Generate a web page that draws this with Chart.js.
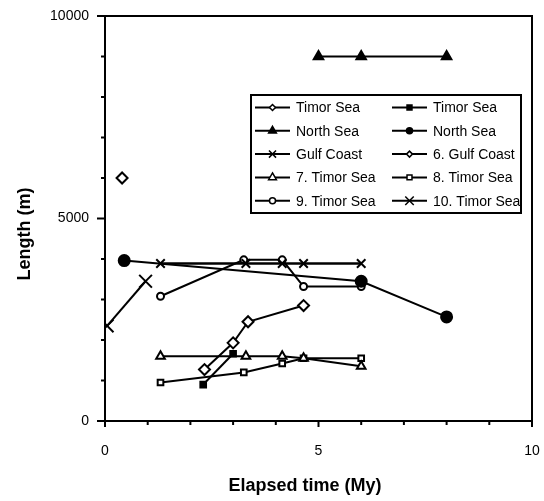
<!DOCTYPE html>
<html>
<head>
<meta charset="utf-8">
<script src="https://cdn.jsdelivr.net/npm/chart.js@4/dist/chart.umd.min.js"></script>
<style>
  html, body { margin: 0; padding: 0; background: #fff; }
  #wrap { width: 544px; height: 501px; }
</style>
</head>
<body>
<div id="wrap"><canvas id="chart" width="544" height="501"></canvas></div>
<script>
// x = elapsed time (My), y = length (m)
const timorAX = [0.4];
const timorAY = [6000];
const timorBX = [2.3, 3.0];
const timorBY = [900, 1660];
const northTriX = [5, 6, 8];
const northTriY = [9000, 9000, 9000];
const northDotX = [0.45, 6, 8];
const northDotY = [3960, 3450, 2570];
const gulfX = [1.3, 3.3, 4.15, 4.65, 6];
const gulfY = [3890, 3890, 3890, 3890, 3890];
const gulf6X = [2.33, 3.0, 3.35, 4.65];
const gulf6Y = [1270, 1930, 2450, 2850];
const timor7X = [1.3, 3.3, 4.15, 4.65, 6];
const timor7Y = [1600, 1600, 1600, 1550, 1350];
const timor8X = [1.3, 3.25, 4.15, 4.65, 6];
const timor8Y = [950, 1200, 1420, 1550, 1550];
const timor9X = [1.3, 3.25, 4.15, 4.65, 6];
const timor9Y = [3080, 3980, 3980, 3320, 3320];
const timor10X = [0.05, 0.95];
const timor10Y = [2350, 3450];

const seriesLabels = ['Timor Sea', 'Timor Sea', 'North Sea', 'North Sea', 'Gulf Coast',
  '6. Gulf Coast', '7. Timor Sea', '8. Timor Sea', '9. Timor Sea', '10. Timor Sea'];
const xTickLabels = [0, 5, 10];
const yTickLabels = [0, 5000, 10000];
const xTitle = 'Elapsed time (My)';
const yTitle = 'Length (m)';

const FONT = "'Liberation Sans', Arial, sans-serif";

function pts(xs, ys) {
  return xs.map((x, i) => ({ x: x, y: ys[i] }));
}

// marker styles: [pointStyle, radius, filled, legendRadius]
const markers = [
  ['rectRot', 5.5, false, 3],
  ['rect', 4, true, 3.5],
  ['triangle', 5.5, true, 4.5],
  ['circle', 5.5, true, 3],
  ['crossRot', 6, false, 5],
  ['rectRot', 5.5, false, 3],
  ['triangle', 5, false, 4.5],
  ['rect', 4, false, 3.5],
  ['circle', 3.5, false, 3],
  ['crossRot', 9, false, 6],
];
const seriesData = [
  pts(timorAX, timorAY), pts(timorBX, timorBY), pts(northTriX, northTriY),
  pts(northDotX, northDotY), pts(gulfX, gulfY), pts(gulf6X, gulf6Y),
  pts(timor7X, timor7Y), pts(timor8X, timor8Y), pts(timor9X, timor9Y),
  pts(timor10X, timor10Y),
];

const datasets = seriesData.map((d, i) => ({
  label: seriesLabels[i],
  data: d,
  showLine: true,
  borderColor: '#000',
  borderWidth: i === 4 ? 2.5 : 2,
  tension: 0,
  pointStyle: markers[i][0],
  pointRadius: markers[i][1],
  pointBorderWidth: 2,
  pointBorderColor: '#000',
  pointBackgroundColor: markers[i][2] ? '#000' : '#fff',
}));

// frame, tick marks, axis titles and the boxed legend
const decor = {
  id: 'decor',
  afterDraw(chart) {
    const ctx = chart.ctx;
    const a = chart.chartArea;
    ctx.save();
    ctx.strokeStyle = '#000';
    ctx.lineWidth = 2;
    ctx.strokeRect(a.left, a.top, a.right - a.left, a.bottom - a.top);

    const ys = chart.scales.y;
    ys.ticks.forEach(t => {
      const py = ys.getPixelForValue(t.value);
      const len = yTickLabels.includes(t.value) ? 8 : 4;
      ctx.beginPath();
      ctx.moveTo(a.left - len, py);
      ctx.lineTo(a.left, py);
      ctx.stroke();
    });
    const xs = chart.scales.x;
    xs.ticks.forEach(t => {
      const px = xs.getPixelForValue(t.value);
      const len = xTickLabels.includes(t.value) ? 6 : 4;
      ctx.beginPath();
      ctx.moveTo(px, a.bottom);
      ctx.lineTo(px, a.bottom + len);
      ctx.stroke();
    });

    // axis titles
    ctx.fillStyle = '#000';
    ctx.font = 'bold 18px ' + FONT;
    ctx.textAlign = 'center';
    ctx.textBaseline = 'middle';
    ctx.fillText(xTitle, 305, 486);
    ctx.save();
    ctx.translate(25, 234);
    ctx.rotate(-Math.PI / 2);
    ctx.fillText(yTitle, 0, 0);
    ctx.restore();
    ctx.textAlign = 'left';

    // legend
    const L = { left: 251, top: 95, right: 521, bottom: 213 };
    ctx.fillStyle = '#fff';
    ctx.fillRect(L.left, L.top, L.right - L.left, L.bottom - L.top);
    ctx.strokeRect(L.left, L.top, L.right - L.left, L.bottom - L.top);
    ctx.beginPath();
    ctx.rect(L.left, L.top, L.right - L.left - 1, L.bottom - L.top);
    ctx.clip();
    const colX = [255, 392];
    const rowH = 23.3;
    ctx.font = '14px ' + FONT;
    ctx.textBaseline = 'middle';
    chart.data.datasets.forEach((ds, i) => {
      const x0 = colX[i % 2];
      const y0 = L.top + 12.5 + Math.floor(i / 2) * rowH;
      ctx.strokeStyle = '#000';
      ctx.lineWidth = 2;
      ctx.beginPath();
      ctx.moveTo(x0, y0);
      ctx.lineTo(x0 + 35, y0);
      ctx.stroke();
      ctx.fillStyle = markers[i][2] ? '#000' : '#fff';
      ctx.lineWidth = 1.5;
      Chart.helpers.drawPoint(ctx, {
        pointStyle: markers[i][0], radius: markers[i][3], borderWidth: 1.5, rotation: 0
      }, x0 + 17.5, y0);
      ctx.fillStyle = '#000';
      ctx.fillText(ds.label, x0 + 41, y0 + 1);
    });
    ctx.restore();
  }
};

new Chart(document.getElementById('chart'), {
  type: 'scatter',
  data: { datasets: datasets },
  plugins: [decor],
  options: {
    responsive: false,
    animation: false,
    layout: { padding: { top: 16, right: 12, left: 0, bottom: 0 } },
    plugins: { legend: { display: false }, tooltip: { enabled: false } },
    scales: {
      x: {
        type: 'linear', min: 0, max: 10,
        afterFit: s => { s.height = 80; s.paddingLeft = 0; s.paddingRight = 0; },
        border: { display: false },
        grid: { display: false, drawTicks: false },
        ticks: {
          stepSize: 1, autoSkip: false, maxRotation: 0, padding: 22,
          color: '#000', font: { family: FONT, size: 14 },
          callback: v => xTickLabels.includes(v) ? String(v) : ''
        }
      },
      y: {
        type: 'linear', min: 0, max: 10000,
        afterFit: s => { s.width = 105; s.paddingTop = 0; s.paddingBottom = 0; },
        border: { display: false },
        grid: { display: false, drawTicks: false },
        ticks: {
          stepSize: 1000, autoSkip: false, padding: 16,
          color: '#000', font: { family: FONT, size: 14 },
          callback: v => yTickLabels.includes(v) ? String(v) : ''
        }
      }
    }
  }
});
</script>
</body>
</html>
